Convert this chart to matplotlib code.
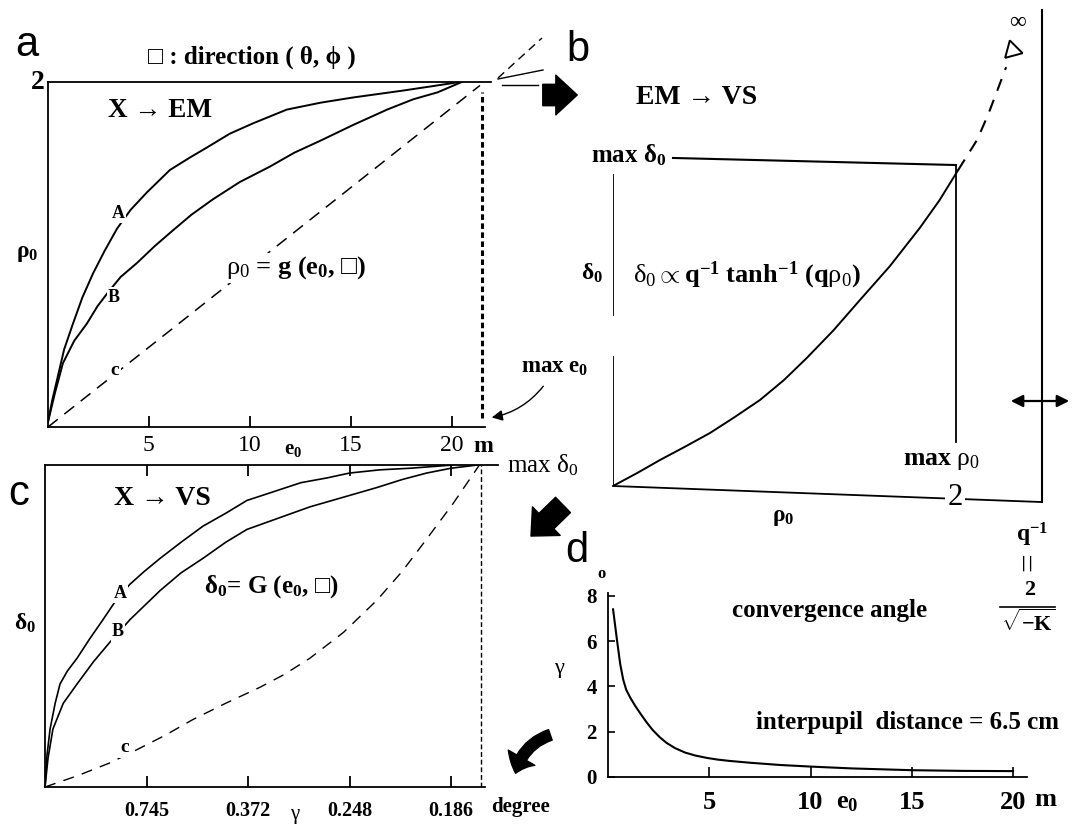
import matplotlib
matplotlib.use("Agg")
import matplotlib.pyplot as plt

W, H = 1072, 824

# a: rho0 = g(e0, direction) for the directions A, B and c
a_e0_A = [0, 0.2, 0.44, 0.8, 1.24, 1.7, 2.23, 2.8, 3.42, 4.1, 4.9, 6.04, 7.0, 7.87,
          9.0, 10.15, 11.83, 13.5, 15.1, 17.57, 19.0, 20.4]
a_rho_A = [0.03, 0.15, 0.27, 0.45, 0.60, 0.75, 0.89, 1.02, 1.15, 1.26, 1.36, 1.49, 1.56, 1.62,
           1.70, 1.76, 1.84, 1.88, 1.91, 1.95, 1.975, 2.0]
a_e0_B = [0, 0.35, 0.74, 1.3, 1.93, 2.45, 2.97, 3.6, 4.4, 5.3, 6.19, 7.1, 8.17, 9.5,
          11.0, 12.2, 13.5, 15.1, 16.8, 18.1, 19.3, 20.5]
a_rho_B = [0.03, 0.2, 0.37, 0.50, 0.60, 0.70, 0.78, 0.87, 0.95, 1.05, 1.14, 1.23, 1.32, 1.42,
           1.51, 1.59, 1.66, 1.75, 1.84, 1.90, 1.94, 2.0]
a_e0_c = [0, 10.7, 21.4]
a_rho_c = [0.0, 0.99, 1.98]

# b: delta0 against rho0
b_rho = [0, 0.14, 0.275, 0.42, 0.567, 0.71, 0.86, 1.0, 1.134, 1.29, 1.444, 1.62, 1.795, 1.91, 2.019]
b_delta = [0, 0.04, 0.081, 0.122, 0.165, 0.214, 0.268, 0.33, 0.399, 0.485, 0.579, 0.685, 0.804, 0.89, 0.984]
b_rho_ext = [2.019, 2.13, 2.194, 2.247, 2.30]
b_delta_ext = [0.984, 1.078, 1.156, 1.23, 1.305]
b_arrow_tip = (2.335, 1.358)
max_rho = 2.007
q_inv = 2.51

# c: delta0 = G(e0, direction)
c_e0_A = [0, 0.1, 0.25, 0.5, 0.74, 1.1, 1.58, 2.2, 2.86, 3.5, 4.19, 4.9, 5.67, 6.7, 7.78,
          8.9, 9.95, 11.4, 12.6, 13.9, 15.0, 16.5, 18.0, 20.1]
c_delta_A = [0, 0.1, 0.18, 0.26, 0.32, 0.36, 0.40, 0.46, 0.52, 0.58, 0.63, 0.67, 0.71, 0.76, 0.81,
             0.85, 0.89, 0.92, 0.945, 0.96, 0.975, 0.985, 0.99, 1.0]
c_e0_B = [0, 0.15, 0.39, 0.9, 1.58, 2.4, 3.2, 4.19, 5.67, 6.7, 7.78, 8.9, 9.95, 11.5,
          13.05, 14.7, 16.35, 17.6, 18.8, 20.0, 21.3]
c_delta_B = [0, 0.09, 0.18, 0.26, 0.32, 0.39, 0.45, 0.52, 0.61, 0.665, 0.71, 0.76, 0.80, 0.835,
             0.87, 0.90, 0.93, 0.955, 0.975, 0.99, 1.0]
c_e0_c = [0, 1.6, 3.2, 4.5, 5.9, 7.3, 8.9, 10.6, 11.8, 13.05, 14.7, 16.35, 17.6, 18.8, 20.1, 21.4]
c_delta_c = [0, 0.035, 0.075, 0.115, 0.16, 0.21, 0.26, 0.31, 0.35, 0.40, 0.48, 0.58, 0.67, 0.77, 0.88, 1.0]

# d: convergence angle (degree) against distance
d_e0 = [0.25, 0.35, 0.45, 0.6, 0.75, 0.9, 1.1, 1.35, 1.6, 1.9, 2.2, 2.55, 2.9, 3.3, 3.8, 4.3,
        4.9, 5.4, 6.0, 7.0, 8.5, 10, 12, 15, 17.5, 20]
d_gamma = [7.4, 6.7, 6.0, 5.0, 4.3, 3.85, 3.5, 3.13, 2.8, 2.42, 2.08, 1.76, 1.5, 1.28, 1.08, 0.95,
           0.84, 0.77, 0.71, 0.63, 0.53, 0.46, 0.38, 0.3, 0.27, 0.26]

e0_ticks = [5, 10, 15, 20]
e0_ticklabels = ['5', '10', '15', '20']
gamma_ticklabels = ['0.745', '0.372', '0.248', '0.186']
d_gamma_ticks = [0, 2, 4, 6, 8]
max_e0 = 21.5

plt.rcParams['font.family'] = ['Liberation Serif', 'DejaVu Serif']
plt.rcParams['mathtext.fontset'] = 'custom'
plt.rcParams['mathtext.rm'] = 'Liberation Serif:bold'
plt.rcParams['mathtext.bf'] = 'Liberation Serif:bold'
plt.rcParams['mathtext.it'] = 'Liberation Serif:italic:bold'
plt.rcParams['mathtext.sf'] = 'Liberation Serif'
plt.rcParams['mathtext.default'] = 'rm'
plt.rcParams['lines.scale_dashes'] = False
plt.rcParams['lines.solid_joinstyle'] = 'round'

fig = plt.figure(figsize=(W / 100, H / 100), dpi=100)


def px_axes(left, top, right, bottom):
    ax = fig.add_axes([left / W, 1 - bottom / H, (right - left) / W, (bottom - top) / H])
    ax.set_facecolor('none')
    for s in ax.spines.values():
        s.set_linewidth(1.3)
    return ax


lw = 1.4
dash = (0, (9, 6))

# ---- a ----
ax_a = px_axes(48, 82, 485, 427)
ax_a.set_xlim(0, 21.65)
ax_a.set_ylim(0, 2)
ax_a.spines['top'].set_visible(False)
ax_a.spines['right'].set_visible(False)
ax_a.plot(a_e0_A, a_rho_A, color='k', lw=lw)
ax_a.plot(a_e0_B, a_rho_B, color='k', lw=lw)
ax_a.plot(a_e0_c, a_rho_c, color='k', lw=1.1, ls=dash)
ax_a.plot([0, 21.95], [2, 2], color='k', lw=1.3, clip_on=False)
ax_a.plot([max_e0, max_e0], [0.05, 1.94], color='k', lw=2.2, ls=(0, (4, 2.5)))
ax_a.set_xticks(e0_ticks)
ax_a.set_xticklabels(e0_ticklabels, fontsize=17)
ax_a.tick_params(axis='x', direction='in', length=8, width=1.3, pad=6)
ax_a.set_yticks([])

# ---- c ----
ax_c = px_axes(45, 465, 484.5, 787)
ax_c.set_xlim(0, 21.65)
ax_c.set_ylim(0, 1)
ax_c.spines['top'].set_visible(False)
ax_c.spines['right'].set_visible(False)
ax_c.plot(c_e0_A, c_delta_A, color='k', lw=1.2)
ax_c.plot(c_e0_B, c_delta_B, color='k', lw=1.2)
ax_c.plot(c_e0_c, c_delta_c, color='k', lw=1.0, ls=(0, (8, 6)))
ax_c.plot([0, 22.3], [1, 1], color='k', lw=1.3, clip_on=False)
ax_c.plot([max_e0, max_e0], [0, 1], color='k', lw=1.0, ls=(0, (3.5, 2)))
ax_c.set_xticks(e0_ticks)
ax_c.set_xticklabels(gamma_ticklabels, fontsize=14.5, fontweight='bold')
ax_c.tick_params(axis='x', top=True, direction='in', length=8, width=1.3, pad=10)
ax_c.set_yticks([])

# ---- b ----
ax_b = px_axes(613, 10, 1042, 486)
ax_b.set_xlim(0, q_inv)
ax_b.set_ylim(0, 1.483)
ax_b.axis('off')
ax_b.plot(b_rho, b_delta, color='k', lw=1.4)
ax_b.plot(b_rho_ext, b_delta_ext, color='k', lw=1.5, ls=(0, (9, 7)))
ax_b.plot(*b_arrow_tip, marker=(3, 0, 15), ms=15, mfc='white', mec='k', mew=1.4, clip_on=False)
ax_b.plot([0, 0], [0.533, 0.969], color='k', lw=1.3)
ax_b.plot([0, 0], [0, 0.402], color='k', lw=1.3)
ax_b.plot([0, q_inv], [0, -0.05], color='k', lw=1.3, clip_on=False)
ax_b.plot([q_inv, q_inv], [-0.05, 1.483], color='k', lw=1.5, clip_on=False)
ax_b.plot([0.351, max_rho], [1.022, 1.0], color='k', lw=1.5)
ax_b.plot([max_rho, max_rho], [1.0, 0.137], color='k', lw=1.3)

# ---- d ----
ax_d = px_axes(608, 593, 1027, 777)
ax_d.set_xlim(0, 20.69)
ax_d.set_ylim(0, 8.12)
ax_d.spines['top'].set_visible(False)
ax_d.spines['right'].set_visible(False)
ax_d.plot(d_e0, d_gamma, color='k', lw=1.5)
ax_d.set_xticks(e0_ticks)
ax_d.set_xticklabels(e0_ticklabels, fontsize=19, fontweight='bold')
ax_d.set_yticks(d_gamma_ticks)
ax_d.set_yticklabels([str(v) for v in d_gamma_ticks], fontsize=15, fontweight='bold')
ax_d.tick_params(axis='x', direction='in', length=7, width=1.2, pad=10)
ax_d.tick_params(axis='y', direction='in', length=5, width=1.2, pad=8)

# ---- overlay for labels and arrows, in pixels ----
ov = fig.add_axes([0, 0, 1, 1])
ov.set_xlim(0, W)
ov.set_ylim(H, 0)
ov.axis('off')


def label(x, y, s, size=16, weight='bold', ha='center', **kw):
    ov.text(x, y, s, fontsize=size, fontweight=weight, ha=ha, va='center', **kw)


white = dict(fc='white', ec='none', pad=1)
for x, y, s in [(27, 45, 'a'), (578, 50, 'b'), (19, 494, 'c'), (577, 551, 'd')]:
    label(x, y, s, size=30, weight='normal', family='Liberation Sans')

label(252, 57, '□ : direction ( θ, ϕ )', size=18)
label(38, 82, '2', size=20)
label(160, 110, 'X → EM', size=19.5)
label(27, 253, r'$\rho_0$', size=17)
label(118, 213, 'A', size=13, bbox=white)
label(114, 297, 'B', size=13, bbox=white)
label(115, 370, 'c', size=14, bbox=white)
label(296, 268, r'$\mathsf{\rho_0}$ = g (e$_0$, □)', size=19, bbox=white)
label(293, 449, r'e$_0$', size=15)
label(483, 446, 'm', size=17)
label(555, 367, r'max e$_0$', size=16.5)

label(507, 465, r'max $\mathsf{\delta_0}$', size=18, weight='normal', ha='left')
label(162, 498, 'X → VS', size=20)
label(25, 623, r'$\delta_0$', size=17)
label(120, 593, 'A', size=13, bbox=white)
label(118, 632, 'B', size=13, bbox=white)
label(125, 748, 'c', size=14, bbox=white)
label(271, 587, r'$\delta_0$= G (e$_0$, □)', size=18)
label(295, 814, 'γ', size=15, weight='normal')
label(520, 807, 'degree', size=15)

label(697, 97, 'EM → VS', size=20)
label(629, 155, r'max $\delta_0$', size=18)
label(592, 273, r'$\delta_0$', size=17)
label(633, 275, r'$\mathsf{\delta_0}\propto$q$^{-1}$ tanh$^{-1}$ (q$\mathsf{\rho_0}$)', size=19, ha='left')
label(941, 460, r'max $\mathsf{\rho_0}$', size=18.5)
label(955, 497, '2', size=22, weight='normal', bbox=dict(fc='white', ec='none', pad=2))
label(783, 517, r'$\rho_0$', size=17)
label(1018, 22, '∞', size=17, weight='normal')
label(1032, 535, r'q$^{-1}$', size=17)
label(1030, 562, '=', size=24, weight='normal', rotation=90)
label(1030, 590, '2', size=16)
ov.plot([1000, 1055], [607, 607], color='k', lw=1.2)
label(1028, 623, r'$\sqrt{-\mathrm{K}}$', size=16)

label(602, 574, 'o', size=12)
label(559, 668, 'γ', size=16, weight='normal')
label(830, 610, 'convergence angle', size=18)
label(908, 722, 'interpupil  distance = 6.5 cm', size=18)
label(847, 802, r'e$_0$', size=19)
label(1045, 800, 'm', size=19)

# arrows
ov.annotate('', xy=(489, 418), xytext=(545, 384),
            arrowprops=dict(arrowstyle='-|>', connectionstyle='arc3,rad=-0.2',
                            lw=1.0, color='k', mutation_scale=16))
ov.annotate('', xy=(580, 95), xytext=(540, 95),
            arrowprops=dict(arrowstyle='simple,head_length=0.7,head_width=1.3,tail_width=0.7',
                            fc='k', ec='k', mutation_scale=22))
ov.annotate('', xy=(529, 538), xytext=(565, 503),
            arrowprops=dict(arrowstyle='simple,head_length=0.7,head_width=1.3,tail_width=0.7',
                            fc='k', ec='k', mutation_scale=22))
ov.annotate('', xy=(515, 776), xytext=(553, 734),
            arrowprops=dict(arrowstyle='simple,head_length=0.6,head_width=1.1,tail_width=0.4',
                            connectionstyle='arc3,rad=0.3', fc='k', ec='k', mutation_scale=20))
ov.annotate('', xy=(1072, 401), xytext=(1008, 401),
            arrowprops=dict(arrowstyle='<|-|>', lw=1.6, color='k', mutation_scale=18))
ov.plot([498, 542], [78, 38], color='k', lw=1.0, ls=(0, (6, 4)))
ov.plot([498, 543], [79, 70], color='k', lw=1.0)
ov.plot([502, 538], [85, 85], color='k', lw=1.0)

fig.savefig('out.png', dpi=100)
